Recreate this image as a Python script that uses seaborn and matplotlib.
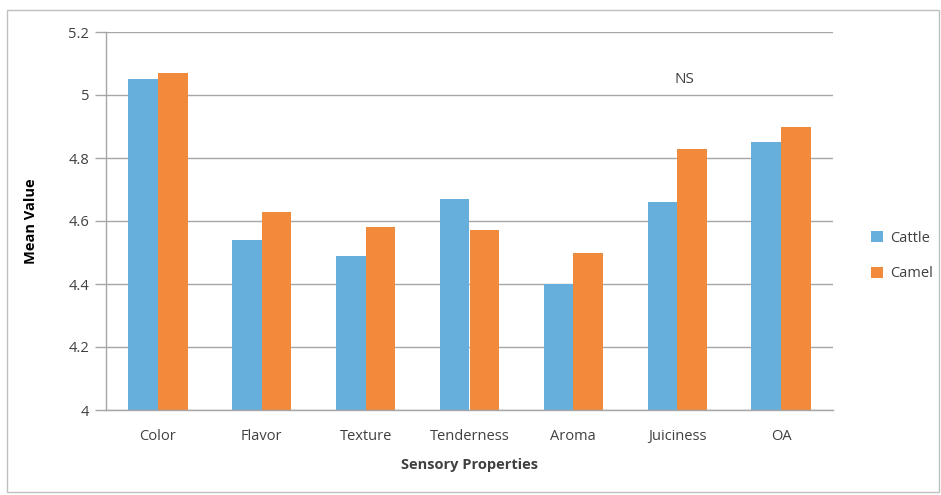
import matplotlib
matplotlib.use("Agg")
import matplotlib.pyplot as plt
import seaborn as sns
import pandas as pd
from matplotlib.patches import Rectangle
from matplotlib.ticker import FuncFormatter

categories = ["Color", "Flavor", "Texture", "Tenderness", "Aroma", "Juiciness", "OA"]
cattle = [5.05, 4.54, 4.49, 4.67, 4.40, 4.66, 4.85]
camel = [5.07, 4.63, 4.58, 4.57, 4.50, 4.83, 4.90]
series = ["Cattle", "Camel"]
yticks = [4, 4.2, 4.4, 4.6, 4.8, 5, 5.2]

df = pd.DataFrame({
    "Property": categories * 2,
    "Value": cattle + camel,
    "Group": ["Cattle"] * len(categories) + ["Camel"] * len(categories),
})

sns.set_theme(style="white")
plt.rcParams["font.family"] = ["Open Sans", "DejaVu Sans"]

fig = plt.figure(figsize=(9.41, 4.95), dpi=100)
ax = fig.add_axes([106 / 941, 1 - 410 / 495, (833 - 106) / 941, (410 - 32) / 495])

colors = {"Cattle": "#66AEDC", "Camel": "#F28A3C"}
sns.barplot(data=df, x="Property", y="Value", hue="Group", hue_order=series,
            palette=colors, width=0.57, gap=0, ax=ax, saturation=1,
            edgecolor="none", legend=True)

ax.set_ylim(4, 5.2)
ax.set_xlim(-0.5, len(categories) - 0.5)
ax.set_yticks(yticks)
ax.yaxis.set_major_formatter(FuncFormatter(lambda v, p: f"{v:g}"))
ax.yaxis.grid(True, color="#A6A6A6", linewidth=1)
ax.set_axisbelow(True)
for s in ["top", "right"]:
    ax.spines[s].set_visible(False)
for s in ["left", "bottom"]:
    ax.spines[s].set_color("#A6A6A6")
    ax.spines[s].set_linewidth(1)

ax.set_xticks(range(len(categories)))
ax.set_xticklabels(categories, fontsize=10.5, color="#404040")
ax.tick_params(axis="x", length=0, pad=14)
ax.set_xticks([i - 0.5 for i in range(len(categories) + 1)], minor=True)
ax.tick_params(axis="x", which="minor", length=6, color="#A6A6A6", width=1, direction="out")
ax.tick_params(axis="y", length=8, color="#A6A6A6", width=1, labelsize=10.5,
               labelcolor="#404040", pad=4, direction="out", left=True)

ax.set_xlabel("Sensory Properties", fontsize=10.5, fontweight="bold", color="#404040", labelpad=10)
ax.set_ylabel("Mean Value", fontsize=10.5, fontweight="bold", color="black", labelpad=22)

ax.text(5.07, 5.05, "NS", ha="center", va="center", fontsize=11, color="#404040")

handles, labels = ax.get_legend_handles_labels()
ax.legend(handles, labels, loc="center left", bbox_to_anchor=(858 / 941, 1 - 256 / 495),
          bbox_transform=fig.transFigure, frameon=False, fontsize=10.5,
          handlelength=0.8, handleheight=0.8, labelspacing=1.4, handletextpad=0.5,
          labelcolor="#404040")

fig.patches.append(Rectangle((7 / 941, 1 - 492 / 495), (939 - 7) / 941, (492 - 10) / 495,
                             transform=fig.transFigure, fill=False,
                             edgecolor="#BFBFBF", linewidth=1))

fig.savefig("out.png", dpi=100, facecolor="white")
